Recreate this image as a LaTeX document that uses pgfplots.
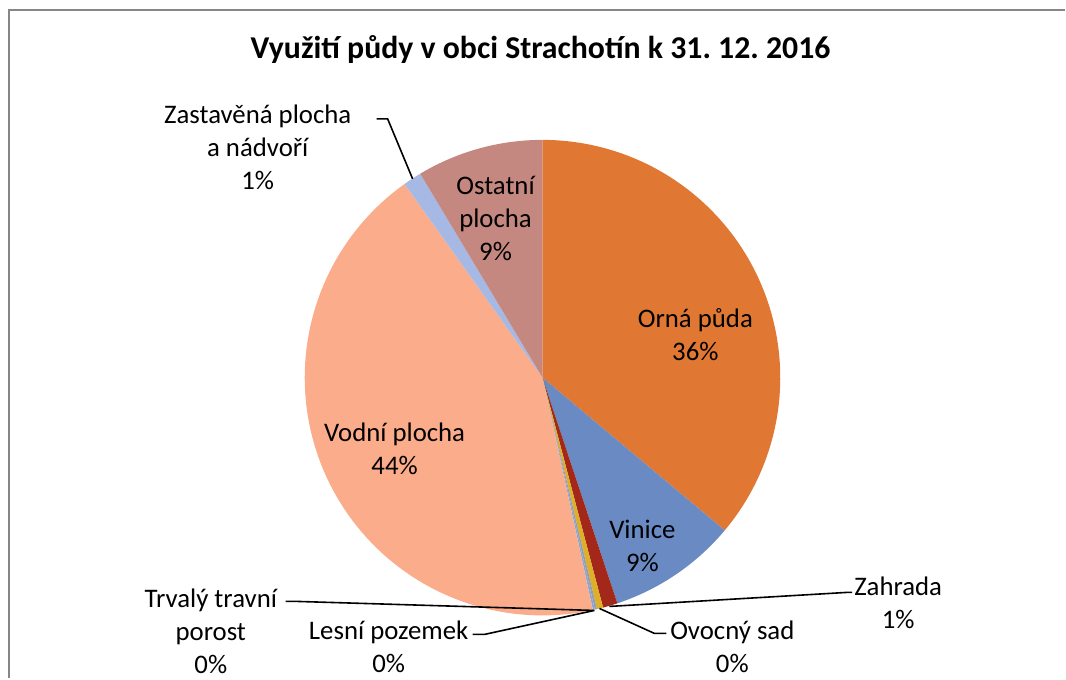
\documentclass[border=0pt]{standalone}
\usepackage{pgfplots}
\pgfplotsset{compat=1.18}
\usepackage{fontspec}
\setmainfont{Carlito}
\frenchspacing
\definecolor{cOrna}{RGB}{224,120,52}
\definecolor{cVinice}{RGB}{106,138,196}
\definecolor{cZahrada}{RGB}{163,40,26}
\definecolor{cOvocny}{RGB}{222,176,42}
\definecolor{cLesni}{RGB}{150,158,170}
\definecolor{cTrvaly}{RGB}{140,165,210}
\definecolor{cVodni}{RGB}{251,172,139}
\definecolor{cZastav}{RGB}{166,185,228}
\definecolor{cOstatni}{RGB}{197,136,128}
\definecolor{frame}{RGB}{134,134,134}
\tikzset{lbl/.style={font=\fontsize{13.4pt}{16.5pt}\selectfont, align=center, inner sep=0pt}}
\def\cum{0}
\newcommand\pieslice[2]{% #1 value in percent, #2 colour
  \pgfmathsetmacro\sa{3.6*\cum}%
  \pgfmathsetmacro\newcum{\cum+#1}%
  \pgfmathsetmacro\ea{3.6*\newcum}%
  \global\let\cum\newcum
  \edef\temp{\noexpand\addplot[fill=#2, draw=none, domain=\sa:\ea, samples=90, variable=\noexpand\t] ({543+238*sin(\noexpand\t)},{378-238*cos(\noexpand\t)}) -- (axis cs:543,378) -- cycle;}%
  \temp
}
\begin{document}
\begin{tikzpicture}
\begin{axis}[at={(0,0)}, anchor=south west, scale only axis,
  width=533pt, height=339.5pt,
  xmin=0, xmax=1066, ymin=0, ymax=679, y dir=reverse,
  axis lines=none, clip=false]
\path (axis cs:0,0) rectangle (axis cs:1066,679);
\draw[frame, line width=1pt] (axis cs:9,679) -- (axis cs:9,10) -- (axis cs:1066,10);
% slices clockwise from top
\pieslice{36.1}{cOrna}
\pieslice{8.8}{cVinice}
\pieslice{1.0}{cZahrada}
\pieslice{0.42}{cOvocny}
\pieslice{0.15}{cLesni}
\pieslice{0.13}{cTrvaly}
\pieslice{43.55}{cVodni}
\pieslice{1.25}{cZastav}
\pieslice{8.6}{cOstatni}
% title
\node[font=\fontsize{15.9pt}{18pt}\selectfont\bfseries, inner sep=0pt] at (axis cs:541,50) {Využití půdy v obci Strachotín k 31. 12. 2016};
% labels
\node[lbl] at (axis cs:258,147) {Zastavěná plocha\\a nádvoří\\1\%};
\node[lbl] at (axis cs:496,219) {Ostatní\\plocha\\9\%};
\node[lbl] at (axis cs:696,335) {Orná půda\\36\%};
\node[lbl] at (axis cs:395,449) {Vodní plocha\\44\%};
\node[lbl] at (axis cs:643,546) {Vinice\\9\%};
\node[lbl] at (axis cs:899,603) {Zahrada\\1\%};
\node[lbl] at (axis cs:733,647) {Ovocný sad\\0\%};
\node[lbl] at (axis cs:389,647) {Lesní pozemek\\0\%};
\node[lbl] at (axis cs:211,632) {Trvalý travní\\porost\\0\%};
% leader lines
\draw[black, line width=0.8pt] (axis cs:377,119) -- (axis cs:388,119) -- (axis cs:413,179);
\draw[black, line width=0.8pt] (axis cs:286,602) -- (axis cs:298,602) -- (axis cs:594,611);
\draw[black, line width=0.8pt] (axis cs:473,635) -- (axis cs:485,635) -- (axis cs:595,611);
\draw[black, line width=0.8pt] (axis cs:600,609) -- (axis cs:655,634) -- (axis cs:667,634);
\draw[black, line width=0.8pt] (axis cs:610,607) -- (axis cs:847,593) -- (axis cs:853,593);
\end{axis}
\end{tikzpicture}
\end{document}
